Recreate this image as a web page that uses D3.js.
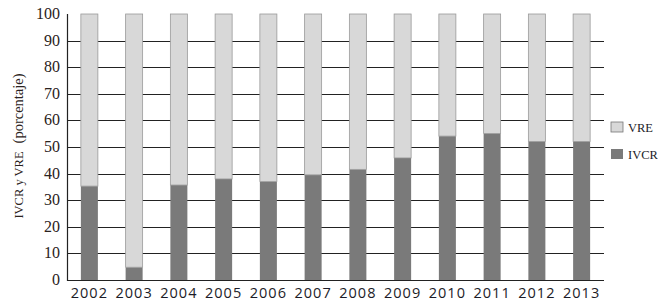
<!DOCTYPE html>
<html>
<head>
<meta charset="utf-8">
<script src="https://cdn.jsdelivr.net/npm/d3@7"></script>
<style>
  body { margin: 0; background: #fff; }
</style>
</head>
<body>
<div id="chart"></div>
<script>
var years = ["2002","2003","2004","2005","2006","2007","2008","2009","2010","2011","2012","2013"];
var ivcr = [35.3, 4.8, 35.7, 38, 37, 39.5, 41.6, 45.9, 54.1, 55.1, 52.1, 52.1];
var vre = [64.7, 95.2, 64.3, 62, 63, 60.5, 58.4, 54.1, 45.9, 44.9, 47.9, 47.9];
var yTicks = [0,10,20,30,40,50,60,70,80,90,100];

function init(){
    var w = 658, h = 301;
    var pLeft = 67, pRight = 604, pTop = 14, pBottom = 280;

    var svg = d3.select("#chart").append("svg")
        .attr("width", w)
        .attr("height", h);

    var x = d3.scaleBand().domain(years).range([pLeft, pRight]).paddingInner(0.62).paddingOuter(0.31);
    var y = d3.scaleLinear().domain([0, 100]).range([pBottom, pTop]);

    // gridlines
    svg.selectAll("line.grid")
        .data(yTicks.filter(function(d){ return d > 0 && d < 100; }))
        .enter()
        .append("line")
        .attr("x1", pLeft).attr("x2", pRight)
        .attr("y1", function(d){ return Math.round(y(d)) + 0.5; })
        .attr("y2", function(d){ return Math.round(y(d)) + 0.5; })
        .attr("stroke", "#222")
        .attr("stroke-width", 1);

    var rows = years.map(function(yr, i){ return {year: yr, ivcr: ivcr[i], vre: vre[i]}; });
    var stack = d3.stack().keys(["ivcr", "vre"])(rows);
    var colors = {ivcr: "#7a7a7a", vre: "#d8d8d8"};

    svg.selectAll("g.layer")
        .data(stack)
        .enter()
        .append("g")
        .attr("fill", function(d){ return colors[d.key]; })
        .attr("stroke", function(d){ return d.key == "vre" ? "#9a9a9a" : "none"; })
        .attr("stroke-width", 0.8)
        .selectAll("rect")
        .data(function(d){ return d; })
        .enter()
        .append("rect")
        .attr("x", function(d){ return x(d.data.year); })
        .attr("y", function(d){ return y(d[1]); })
        .attr("width", x.bandwidth())
        .attr("height", function(d){ return y(d[0]) - y(d[1]); });

    // axis lines
    svg.append("line").attr("x1", pLeft + 0.5).attr("x2", pLeft + 0.5)
        .attr("y1", pTop).attr("y2", pBottom + 1)
        .attr("stroke", "#222").attr("stroke-width", 1.2);
    svg.append("line").attr("x1", pLeft).attr("x2", pRight)
        .attr("y1", pBottom + 0.5).attr("y2", pBottom + 0.5)
        .attr("stroke", "#222").attr("stroke-width", 1.2);

    // y tick labels
    svg.selectAll("text.ytick")
        .data(yTicks)
        .enter()
        .append("text")
        .attr("x", 60)
        .attr("y", function(d){ return y(d) + 5; })
        .attr("text-anchor", "end")
        .attr("font-family", "Liberation Serif, serif")
        .attr("font-size", 16)
        .attr("fill", "#2a2220")
        .text(function(d){ return d; });

    // x labels
    svg.selectAll("text.xtick")
        .data(years)
        .enter()
        .append("text")
        .attr("x", function(d){ return x(d) + x.bandwidth() / 2; })
        .attr("y", 298)
        .attr("text-anchor", "middle")
        .attr("font-family", "Open Sans, sans-serif")
        .attr("font-size", 14.5)
        .attr("letter-spacing", 1)
        .attr("fill", "#1c1c28")
        .text(function(d){ return d; });

    // y title
    var yt = svg.append("text")
        .attr("transform", "translate(23,146) rotate(-90)")
        .attr("text-anchor", "middle")
        .attr("font-family", "Liberation Serif, serif")
        .attr("fill", "#2a2220");
    yt.append("tspan").attr("font-size", 12.5).text("IVCR y VRE");
    yt.append("tspan").attr("font-size", 14.5).attr("dx", 8).text("(porcentaje)");

    // legend
    var legend = [{key: "vre", label: "VRE", y: 122}, {key: "ivcr", label: "IVCR", y: 149}];
    var lg = svg.selectAll("g.leg").data(legend).enter().append("g");
    lg.append("rect")
        .attr("x", 611).attr("y", function(d){ return d.y; })
        .attr("width", 12).attr("height", 10)
        .attr("fill", function(d){ return colors[d.key]; })
        .attr("stroke", function(d){ return d.key == "vre" ? "#777" : "none"; })
        .attr("stroke-width", 0.8);
    lg.append("text")
        .attr("x", 628).attr("y", function(d){ return d.y + 10; })
        .attr("font-family", "Liberation Serif, serif")
        .attr("font-size", 12.5)
        .attr("fill", "#1c1c28")
        .text(function(d){ return d.label; });
}
window.onload = init;
</script>
</body>
</html>
